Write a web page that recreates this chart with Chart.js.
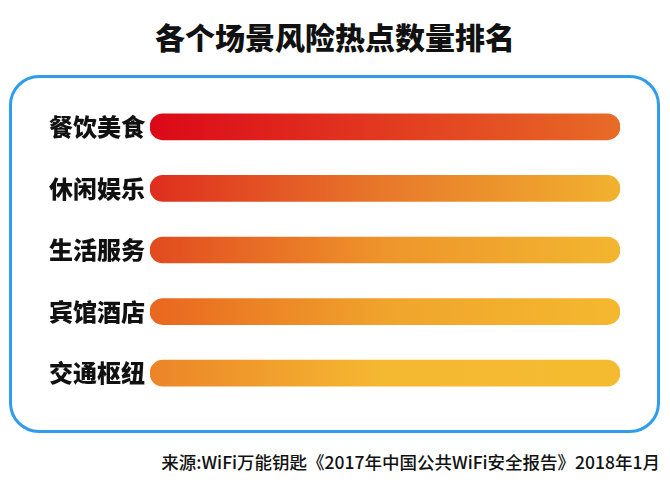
<!DOCTYPE html>
<html>
<head>
<meta charset="utf-8">
<script src="https://cdn.jsdelivr.net/npm/chart.js@4/dist/chart.umd.min.js"></script>
<style>
  html, body { margin: 0; padding: 0; background: #ffffff; }
  body { width: 670px; height: 486px; position: relative; overflow: hidden;
         font-family: "Noto Sans CJK SC", "Noto Sans", sans-serif; }
  #title { position: absolute; left: 0; width: 670px; top: 15px; text-align: center;
           font-size: 30px; font-weight: 900; color: #111; line-height: 42px; margin: 0; }
  #box { position: absolute; left: 9px; top: 75px; width: 645px; height: 352px;
         border: 3px solid #2f9cec; border-radius: 30px; }
  #wrap { position: absolute; left: 10px; top: 76px; width: 650px; height: 355px; }
  #source { position: absolute; right: 10px; top: 450px; font-size: 17.5px; font-weight: 500;
            color: #111; line-height: 24px; white-space: nowrap; }
</style>
</head>
<body>
<h1 id="title">各个场景风险热点数量排名</h1>
<div id="box"></div>
<div id="wrap"><canvas id="c"></canvas></div>
<div id="source">来源:WiFi万能钥匙《2017年中国公共WiFi安全报告》2018年1月</div>
<script>
const categories = ['餐饮美食', '休闲娱乐', '生活服务', '宾馆酒店', '交通枢纽'];
const values = [100, 100, 100, 100, 100];
const gradientStops = [
  ['#dc0818', '#e23a20', '#e76b27'],
  ['#df2e1e', '#e8792a', '#f1b22f'],
  ['#e24a1f', '#ee952b', '#f3b630'],
  ['#e9661f', '#f0a42c', '#f4b82f'],
  ['#ec8428', '#f5b931', '#f4bb31']
];

new Chart(document.getElementById('c'), {
  type: 'bar',
  data: {
    labels: categories,
    datasets: [{
      data: values,
      backgroundColor: (ctx) => {
        const chart = ctx.chart;
        const area = chart.chartArea;
        if (!area) return '#e85020';
        const stops = gradientStops[ctx.dataIndex] || gradientStops[0];
        const g = chart.ctx.createLinearGradient(area.left, 0, area.right, 0);
        g.addColorStop(0, stops[0]);
        g.addColorStop(0.5, stops[1]);
        g.addColorStop(1, stops[2]);
        return g;
      },
      borderRadius: 13,
      borderSkipped: false,
      barThickness: 26
    }]
  },
  options: {
    indexAxis: 'y',
    responsive: true,
    maintainAspectRatio: false,
    animation: false,
    layout: { padding: { top: 20, bottom: 27, left: 0, right: 40 } },
    plugins: {
      legend: { display: false },
      tooltip: { enabled: false },
      title: { display: false }
    },
    scales: {
      x: { display: false, min: 0, max: 100 },
      y: {
        grid: { display: false, drawTicks: false },
        border: { display: false },
        afterFit: (scale) => { scale.width = 140; },
        ticks: {
          color: '#111',
          padding: 5,
          font: { family: '"Noto Sans CJK SC", sans-serif', size: 24, weight: '900' }
        }
      }
    }
  }
});
</script>
</body>
</html>
